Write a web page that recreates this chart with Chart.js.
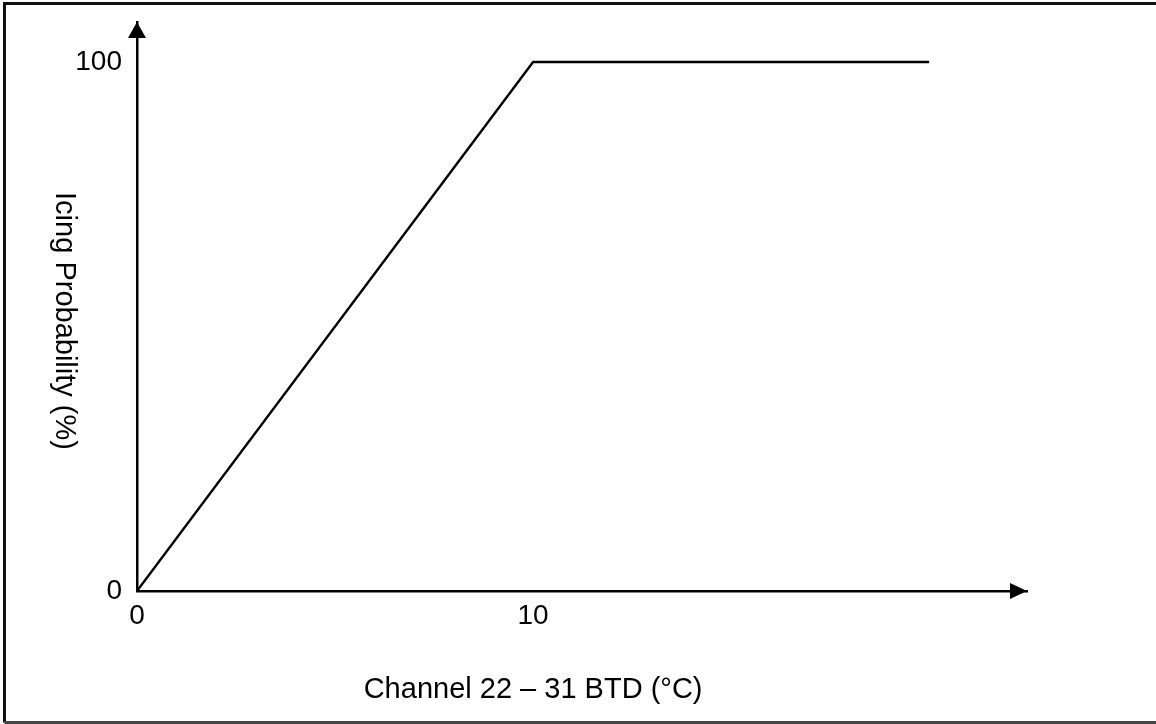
<!DOCTYPE html>
<html lang="en">
<head>
    <meta charset="UTF-8">
    <title>Icing Probability</title>
    <script src="https://cdn.jsdelivr.net/npm/chart.js"></script>
    <style>
        html, body { margin: 0; padding: 0; background: #fff; }
        #wrap { width: 1156px; height: 724px; position: relative; }
    </style>
</head>
<body>
    <div id="wrap"><canvas id="icingChart"></canvas></div>

    <script>
        // data
        const btdValues = [0, 10, 20];
        const probValues = [0, 100, 100];
        const xTicks = [0, 10];
        const yTicks = [0, 100];
        const xTitle = 'Channel 22 \u2013 31 BTD (\u00B0C)';
        const yTitle = 'Icing Probability (%)';

        const FONT = 'Arial, "Liberation Sans", sans-serif';

        // frame, arrow heads and both axis titles (the x one sits under the 10 tick,
        // the y one reads downwards, neither of which chart.js titles can do)
        const decor = {
            id: 'decor',
            beforeDraw(chart) {
                const ctx = chart.ctx;
                ctx.save();
                ctx.fillStyle = '#fff';
                ctx.fillRect(0, 0, chart.width, chart.height);
                ctx.strokeStyle = '#111';
                ctx.lineWidth = 3;
                ctx.beginPath();
                ctx.moveTo(chart.width + 5, 3.5);
                ctx.lineTo(4.5, 3.5);
                ctx.lineTo(4.5, 722.5);
                ctx.stroke();
                ctx.strokeStyle = '#444';
                ctx.beginPath();
                ctx.moveTo(4.5, 722.5);
                ctx.lineTo(chart.width + 5, 722.5);
                ctx.stroke();
                ctx.restore();
            },
            afterDraw(chart) {
                const ctx = chart.ctx;
                const a = chart.chartArea;
                ctx.save();
                ctx.fillStyle = '#000';
                // y arrow
                ctx.beginPath();
                ctx.moveTo(a.left, a.top);
                ctx.lineTo(a.left - 9, a.top + 16);
                ctx.lineTo(a.left + 9, a.top + 16);
                ctx.closePath();
                ctx.fill();
                // x arrow
                ctx.beginPath();
                ctx.moveTo(a.right, a.bottom);
                ctx.lineTo(a.right - 17, a.bottom - 8);
                ctx.lineTo(a.right - 17, a.bottom + 8);
                ctx.closePath();
                ctx.fill();
                ctx.font = '29px ' + FONT;
                ctx.textAlign = 'center';
                ctx.textBaseline = 'middle';
                // x title
                ctx.fillText(xTitle, chart.scales.x.getPixelForValue(xTicks[1]), 690);
                // y title
                ctx.translate(64, 321);
                ctx.rotate(Math.PI / 2);
                ctx.fillText(yTitle, 0, 0);
                ctx.restore();
            }
        };

        const ctx = document.getElementById('icingChart').getContext('2d');
        new Chart(ctx, {
            type: 'line',
            data: {
                datasets: [{
                    data: btdValues.map((x, i) => ({ x: x, y: probValues[i] })),
                    borderColor: '#000',
                    borderWidth: 2.4,
                    pointRadius: 0,
                    tension: 0,
                    fill: false
                }]
            },
            options: {
                responsive: true,
                maintainAspectRatio: false,
                animation: false,
                layout: { padding: { left: 0, top: 22, right: 129, bottom: 0 } },
                plugins: {
                    legend: { display: false },
                    tooltip: { enabled: false }
                },
                scales: {
                    x: {
                        type: 'linear',
                        min: 0,
                        max: 22.47,
                        grid: { display: false, drawTicks: false },
                        border: { display: true, color: '#000', width: 2.5 },
                        afterBuildTicks: s => { s.ticks = xTicks.map(v => ({ value: v })); },
                        afterFit: s => { s.height = 724 - 591; },
                        ticks: {
                            color: '#000',
                            padding: 8,
                            maxRotation: 0,
                            autoSkip: false,
                            font: { family: FONT, size: 28 }
                        }
                    },
                    y: {
                        type: 'linear',
                        min: 0,
                        max: 107.56,
                        grid: { display: false, drawTicks: false },
                        border: { display: true, color: '#000', width: 2.5 },
                        afterBuildTicks: s => { s.ticks = yTicks.map(v => ({ value: v })); },
                        afterFit: s => { s.width = 137; s.paddingTop = 0; s.paddingBottom = 0; },
                        ticks: {
                            color: '#000',
                            padding: 15,
                            autoSkip: false,
                            font: { family: FONT, size: 28 }
                        }
                    }
                }
            },
            plugins: [decor]
        });
    </script>
</body>
</html>
